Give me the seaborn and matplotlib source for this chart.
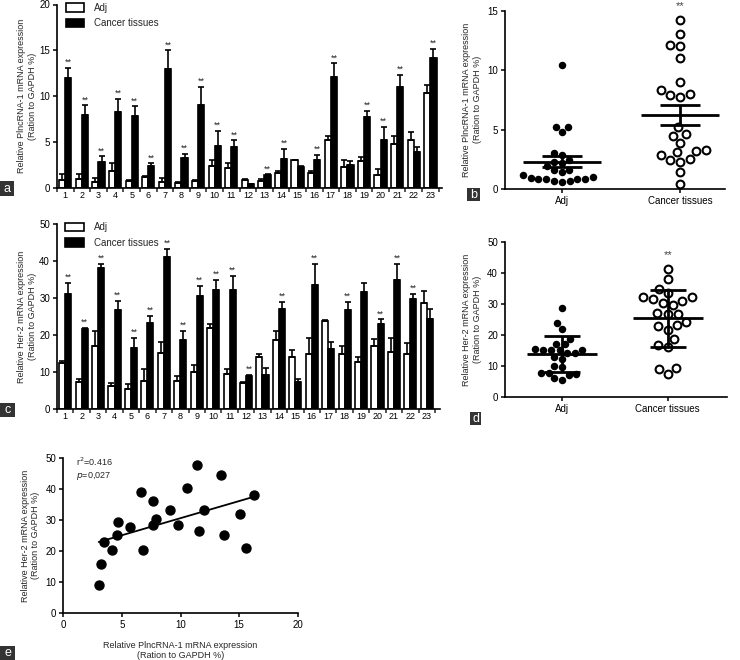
import numpy as np
import pandas as pd
import matplotlib
matplotlib.use("Agg")
import matplotlib.pyplot as plt
import seaborn as sns
from matplotlib.patches import Patch, Rectangle

sns.set_theme(style="ticks")
plt.rcParams["font.family"] = ["Liberation Sans", "DejaVu Sans"]

# ============================================================
# DATA
# ============================================================

SAMPLES = [str(i) for i in range(1, 24)]
GROUPS = ["Adj", "Cancer tissues"]

# panel a: PlncRNA-1 per patient (mean, upper error)
pl_adj = [0.87, 1.0, 0.7, 1.9, 0.8, 1.15, 0.7, 0.58, 0.8, 2.4, 2.2, 0.9,
          0.8, 1.6, 3.0, 1.6, 5.2, 2.25, 2.9, 1.4, 4.8, 5.2, 10.4]
pl_adj_err = [0.63, 0.5, 0.4, 0.8, 0.07, 0.15, 0.35, 0.07, 0.07, 0.7, 0.55, 0.05,
              0.15, 0.3, 0.1, 0.2, 0.45, 0.85, 0.5, 0.7, 0.85, 0.9, 0.8]
pl_ca = [12.0, 8.0, 2.86, 8.3, 7.9, 2.4, 13.0, 3.3, 9.0, 4.6, 4.5, 0.43,
         1.4, 3.2, 2.3, 3.1, 12.1, 2.5, 7.7, 5.2, 11.0, 3.9, 14.2]
pl_ca_err = [1.1, 1.0, 0.6, 1.45, 1.0, 0.3, 2.0, 0.4, 2.0, 1.6, 0.7, 0.05,
             0.1, 1.1, 0.1, 0.5, 1.5, 0.4, 0.7, 1.5, 1.3, 0.6, 1.0]
pl_star = [1, 2, 3, 4, 5, 6, 7, 8, 9, 10, 11, 13, 14, 16, 17, 19, 20, 21, 23]

# panel c: Her-2 per patient
her_adj = [12.3, 7.3, 17.1, 6.1, 5.5, 7.7, 15.2, 7.7, 10.0, 22.0, 9.5, 6.9,
           14.1, 18.6, 14.1, 15.0, 23.9, 15.0, 12.8, 17.0, 15.5, 15.0, 28.6]
her_adj_err = [0.7, 0.7, 4.0, 0.9, 1.3, 3.2, 3.0, 1.1, 2.0, 0.9, 1.4, 0.3,
               0.9, 2.4, 1.8, 4.1, 0.2, 2.0, 1.2, 1.9, 3.6, 2.9, 3.4]
her_ca = [31.1, 21.5, 38.0, 26.8, 16.6, 23.2, 41.2, 18.6, 30.5, 32.2, 32.2, 8.9,
          9.2, 27.0, 7.4, 33.5, 16.1, 26.8, 31.7, 22.9, 35.0, 29.6, 24.2]
her_ca_err = [3.0, 0.3, 1.1, 2.3, 2.5, 2.0, 2.0, 2.6, 2.7, 2.8, 3.8, 0.3,
              1.8, 2.0, 0.7, 5.7, 1.9, 2.2, 2.4, 1.3, 4.2, 1.4, 2.8]
her_star = [1, 2, 3, 4, 5, 6, 7, 8, 9, 10, 11, 12, 14, 16, 18, 20, 21, 22]

# panel e: correlation
e_x = [3.02, 3.22, 3.48, 4.19, 4.59, 4.67, 5.70, 6.61, 6.84, 7.69, 7.64, 7.92,
       9.12, 9.77, 10.54, 11.40, 11.60, 12.0, 13.42, 13.73, 15.1, 15.58, 16.24]
e_y = [9.0, 15.8, 22.8, 20.4, 25.3, 29.5, 27.6, 39.0, 20.4, 36.2, 28.5, 30.3,
       33.3, 28.5, 40.5, 47.7, 26.6, 33.3, 44.6, 25.2, 31.9, 21.1, 38.0]

YLAB_PL = "Relative PlncRNA-1 mRNA expression\n(Ration to GAPDH %)"
YLAB_HER = "Relative Her-2 mRNA expression\n(Ration to GAPDH %)"

W, H = 740, 660
fig = plt.figure(figsize=(W / 100, H / 100), dpi=100)


def px_axes(left, top, right, bottom):
    return fig.add_axes([left / W, 1 - bottom / H, (right - left) / W, (bottom - top) / H])


def style(ax):
    sns.despine(ax=ax)
    for s in ["left", "bottom"]:
        ax.spines[s].set_linewidth(1.2)
        ax.spines[s].set_color("black")
    ax.tick_params(axis="both", labelsize=7, length=3, width=1.1, colors="black", pad=2)
    ax.set_facecolor("white")


def bar_panel(ax, adj, adj_err, ca, ca_err, stars, ymax, step, ylab, xlim, star_off):
    df = pd.DataFrame({
        "sample": SAMPLES * 2,
        "group": [GROUPS[0]] * 23 + [GROUPS[1]] * 23,
        "value": adj + ca,
    })
    sns.barplot(data=df, x="sample", y="value", hue="group", order=SAMPLES,
                hue_order=GROUPS, palette={"Adj": "white", "Cancer tissues": "black"},
                edgecolor="black", linewidth=1.2, width=0.74, errorbar=None,
                legend=False, ax=ax)
    for cont, err in zip(ax.containers, [adj_err, ca_err]):
        xs = [p.get_x() + p.get_width() / 2 for p in cont]
        hs = [p.get_height() for p in cont]
        ax.errorbar(xs, hs, yerr=[np.zeros(len(err)), err], fmt="none",
                    ecolor="black", elinewidth=1.2, capsize=2.2, capthick=1.2)
    for p, e, s in zip(ax.containers[1], ca_err, SAMPLES):
        if int(s) in stars:
            ax.text(p.get_x() + p.get_width() / 2, p.get_height() + e + star_off, "**",
                    ha="center", va="bottom", fontsize=6.5)
    ax.set_ylim(0, ymax)
    ax.set_yticks(np.arange(0, ymax + 1, step))
    ax.set_xlim(*xlim)
    ax.set_xticks(np.arange(-0.5, 23, 1), minor=True)
    style(ax)
    ax.tick_params(axis="x", which="major", length=0, labelsize=6.5)
    ax.tick_params(axis="x", which="minor", length=3, width=1.1)
    ax.set_xlabel("")
    ax.set_ylabel(ylab, fontsize=6.5, labelpad=2)
    handles = [Patch(facecolor="white", edgecolor="black", linewidth=1.2, label="Adj"),
               Patch(facecolor="black", edgecolor="black", linewidth=1.2, label="Cancer tissues")]
    ax.legend(handles=handles, loc="upper left", bbox_to_anchor=(0.012, 1.03),
              frameon=False, fontsize=7, handlelength=1.9, handleheight=1.0,
              labelspacing=0.55, handletextpad=1.0, borderaxespad=0)


def dot_panel(ax, adj, ca, ymax, step, ylab, xlim, use_sd, star_y):
    df = pd.DataFrame({"group": [GROUPS[0]] * 23 + [GROUPS[1]] * 23, "value": adj + ca})
    sns.swarmplot(data=df[df["group"] == "Adj"], x="group", y="value", order=GROUPS,
                  color="black", size=5.4, ax=ax)
    sns.swarmplot(data=df[df["group"] == "Cancer tissues"], x="group", y="value",
                  order=GROUPS, color="white", edgecolor="black", linewidth=1.5,
                  size=5.6, ax=ax)
    for i, vals in enumerate([adj, ca]):
        v = np.array(vals)
        m = v.mean()
        spread = v.std(ddof=1) if use_sd else v.std(ddof=1) / np.sqrt(len(v))
        ax.hlines(m, i - 0.33, i + 0.33, color="black", lw=2, zorder=5)
        ax.hlines([m - spread, m + spread], i - 0.17, i + 0.17, color="black", lw=2, zorder=5)
        ax.vlines(i, m - spread, m + spread, color="black", lw=2, zorder=5)
    ax.text(1, star_y, "**", ha="center", va="center", fontsize=8, color="#444444",
            clip_on=False)
    ax.set_ylim(0, ymax)
    ax.set_yticks(np.arange(0, ymax + 1, step))
    ax.set_xlim(*xlim)
    style(ax)
    ax.set_xlabel("")
    ax.set_ylabel(ylab, fontsize=6.5, labelpad=4)


# a
ax_a = px_axes(57, 4.5, 442, 188)
bar_panel(ax_a, pl_adj, pl_adj_err, pl_ca, pl_ca_err, pl_star, 20, 5, YLAB_PL,
          (-0.45, 22.7), 0.1)

# b
ax_b = px_axes(505, 10.7, 725, 189)
dot_panel(ax_b, pl_adj, pl_ca, 15, 5, YLAB_PL, (-0.48, 1.38), False, 15.4)

# c
ax_c = px_axes(57, 224, 440, 409)
bar_panel(ax_c, her_adj, her_adj_err, her_ca, her_ca_err, her_star, 50, 10, YLAB_HER,
          (-0.4, 22.8), 0.3)

# d
ax_d = px_axes(505, 242.3, 727, 396.7)
dot_panel(ax_d, her_adj, her_ca, 50, 10, YLAB_HER, (-0.54, 1.56), True, 45.9)

# e
ax_e = px_axes(63.3, 458.3, 297.7, 612.7)
sns.regplot(x=e_x, y=e_y, ci=None, truncate=True, ax=ax_e,
            scatter_kws={"color": "black", "s": 42, "alpha": 1, "edgecolor": "black"},
            line_kws={"color": "black", "lw": 1.3})
ax_e.set_xlim(0, 20)
ax_e.set_ylim(0, 50)
ax_e.set_xticks([0, 5, 10, 15, 20])
ax_e.set_yticks([0, 10, 20, 30, 40, 50])
style(ax_e)
ax_e.set_ylabel(YLAB_HER, fontsize=6.5, labelpad=4)
ax_e.set_xlabel("Relative PlncRNA-1 mRNA expression\n(Ration to GAPDH %)",
                fontsize=6.5, labelpad=8)
ax_e.text(1.1, 49, r"r$^2$=0.416", fontsize=6.5, va="center")
ax_e.text(1.1, 44.2, r"$p$=0,027", fontsize=6.5, va="center")

# panel letters
for letter, (x0, y0, x1, y1) in {"a": (0, 181, 14, 196), "b": (467, 188, 480, 201),
                                 "c": (0, 403, 15, 417), "d": (470, 412, 481, 425),
                                 "e": (0, 646, 15, 660)}.items():
    fig.add_artist(Rectangle((x0 / W, 1 - y1 / H), (x1 - x0) / W, (y1 - y0) / H,
                             transform=fig.transFigure, facecolor="#333333",
                             edgecolor="none"))
    fig.text((x0 + x1) / 2 / W, 1 - (y0 + y1) / 2 / H, letter, color="white",
             ha="center", va="center", fontsize=9)

fig.savefig("out.png", dpi=100, facecolor="white")
